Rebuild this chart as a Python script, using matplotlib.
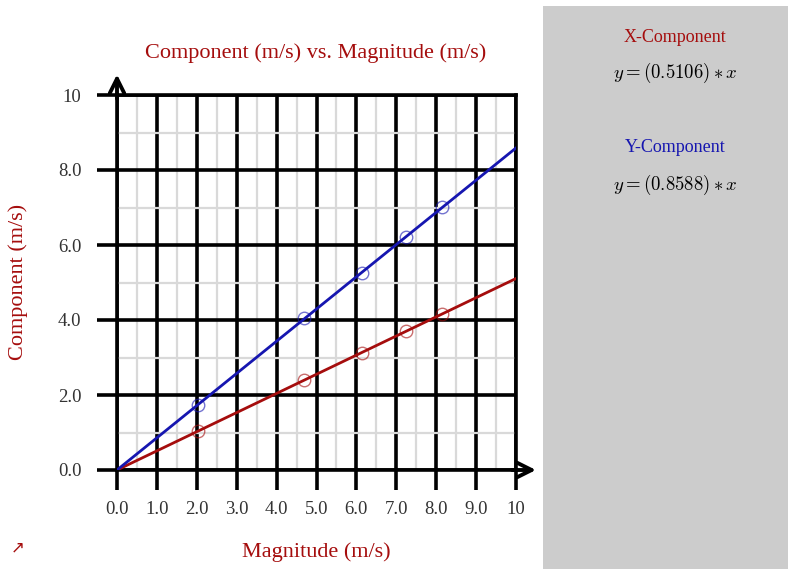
import matplotlib.pyplot as plt
import numpy as np
from matplotlib.patches import Rectangle

# Measured points (magnitude vs components)
magnitude = [2.03, 4.69, 6.14, 7.24, 8.15]
x_comp = [1.03, 2.40, 3.12, 3.71, 4.16]
y_comp = [1.74, 4.05, 5.26, 6.21, 7.01]

# Fitted slopes shown in the side panel
slope_x = 0.5106
slope_y = 0.8588

x_ticks = [0, 1, 2, 3, 4, 5, 6, 7, 8, 9, 10]
x_ticklabels = ['0.0', '1.0', '2.0', '3.0', '4.0', '5.0', '6.0', '7.0', '8.0', '9.0', '10']
y_ticks = [0, 2, 4, 6, 8, 10]
y_ticklabels = ['0.0', '2.0', '4.0', '6.0', '8.0', '10']

red = '#a50d0d'
blue = '#1616b0'

plt.rcParams.update({
    'font.family': ['Liberation Serif', 'DejaVu Sans'],
    'mathtext.fontset': 'cm',
})

fig = plt.figure(figsize=(7.88, 5.69), dpi=100)
W, H = 788, 569
ax = fig.add_axes([117 / W, (H - 470) / H, (516 - 117) / W, (470 - 95) / H])

# grey side panel
fig.patches.append(Rectangle((543 / W, 0), (W - 543) / W, (H - 6) / H,
                             transform=fig.transFigure, facecolor='#cccccc',
                             edgecolor='none', zorder=0))

ax.set_xlim(0, 10)
ax.set_ylim(0, 10)

# light minor grid
ax.set_xticks(np.arange(0.5, 10, 1), minor=True)
ax.set_yticks(np.arange(1, 10, 2), minor=True)
ax.grid(which='minor', color='#d9d9d9', linewidth=1.6)
ax.tick_params(which='minor', length=0)

# heavy major grid
ax.set_xticks(x_ticks)
ax.set_xticklabels(x_ticklabels)
ax.set_yticks(y_ticks)
ax.set_yticklabels(y_ticklabels)
ax.grid(which='major', color='black', linewidth=2.6)
ax.tick_params(which='major', length=14.5, width=2.6, color='black',
               labelsize=13.5, labelcolor='#333333')
ax.tick_params(axis='x', pad=8)
ax.tick_params(axis='y', pad=11)
for s in ax.spines.values():
    s.set_linewidth(2.6)
ax.set_axisbelow(True)

# axis arrows
ax.annotate('', xy=(0, 10.55), xytext=(0, 9.9),
            arrowprops=dict(arrowstyle='->', lw=2.8, color='black',
                            mutation_scale=26, shrinkA=0, shrinkB=0),
            annotation_clip=False)
ax.annotate('', xy=(10.5, 0), xytext=(9.9, 0),
            arrowprops=dict(arrowstyle='->', lw=2.8, color='black',
                            mutation_scale=26, shrinkA=0, shrinkB=0),
            annotation_clip=False)

# fit lines
xs = np.array([0, 10])
ax.plot(xs, slope_x * xs, color=red, linewidth=2, zorder=3)
ax.plot(xs, slope_y * xs, color=blue, linewidth=2, zorder=3)

# data points
ax.plot(magnitude, x_comp, 'o', markersize=9, markerfacecolor='none',
        markeredgecolor=red, markeredgewidth=1, alpha=0.6, zorder=4)
ax.plot(magnitude, y_comp, 'o', markersize=9, markerfacecolor='none',
        markeredgecolor=blue, markeredgewidth=1, alpha=0.6, zorder=4)

# titles
fig.text(316 / W, 1 - 53 / H, 'Component (m/s) vs. Magnitude (m/s)',
         color=red, fontsize=16, ha='center', va='center')
fig.text(316 / W, 1 - 552 / H, 'Magnitude (m/s)',
         color=red, fontsize=16, ha='center', va='center')
fig.text(18 / W, 1 - 282 / H, 'Component (m/s)', rotation=90,
         color=red, fontsize=16, ha='center', va='center')
fig.text(18 / W, 1 - 547 / H, '\u2197', color=red, fontsize=12,
         ha='center', va='center', family=['DejaVu Sans'])

# side panel text
fig.text(675 / W, 1 - 38 / H, 'X-Component', color=red, fontsize=13,
         ha='center', va='center')
fig.text(675 / W, 1 - 73 / H, r'$y = (%.4f) * x$' % slope_x, color='black',
         fontsize=13.5, ha='center', va='center')
fig.text(675 / W, 1 - 148 / H, 'Y-Component', color=blue, fontsize=13,
         ha='center', va='center')
fig.text(675 / W, 1 - 185 / H, r'$y = (%.4f) * x$' % slope_y, color='black',
         fontsize=13.5, ha='center', va='center')

plt.savefig('out.png', dpi=100)
